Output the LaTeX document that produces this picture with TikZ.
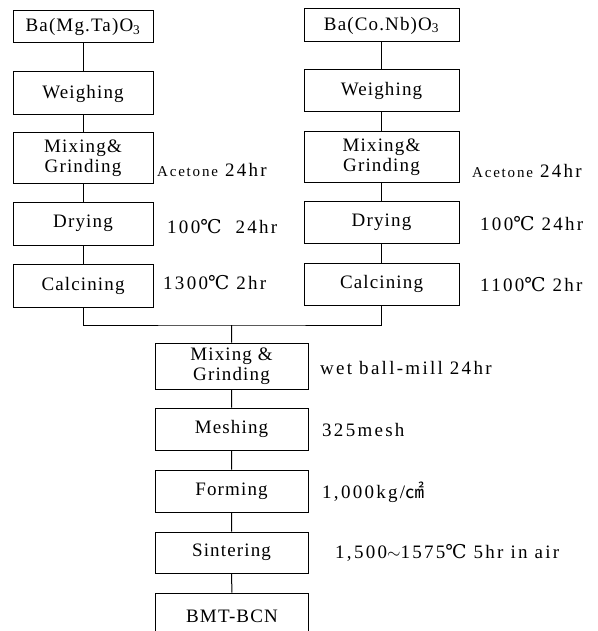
\documentclass[tikz,border=0pt]{standalone}
\usepackage{fontspec}
\setmainfont{Liberation Serif}[LetterSpace=6]
\newfontfamily\cjk{Noto Sans CJK KR}
\newfontfamily\symserif{DejaVu Serif}
\usetikzlibrary{positioning}
\newcommand{\degC}{{\symserif ℃}}
\newcommand{\sqcm}{{\cjk ㎠}}
\tikzset{
  pbox/.style={draw, line width=1pt, align=center, inner sep=2pt,
    font=\fontsize{19}{20}\selectfont},
  lbox/.style={pbox, minimum width=140pt},
  rbox/.style={pbox, minimum width=155pt},
  cbox/.style={pbox, minimum width=153pt},
  cond/.style={anchor=west, inner sep=0pt,
    font=\fontsize{19}{21}\selectfont\addfontfeatures{LetterSpace=12}},
  link/.style={line width=1pt}
}

\begin{document}
\begin{tikzpicture}[x=1pt,y=-1pt]
  \useasboundingbox (0,0) rectangle (597,631);
  \clip (0,0) rectangle (597,631);
  % left column: Ba(Mg,Ta)O3
  \node[lbox, minimum height=32pt] (lraw) at (83,27) {Ba(Mg.Ta)O\textsubscript{3}};
  \node[lbox, minimum height=43pt] (lweigh) at (83,93.5) {Weighing};
  \node[lbox, minimum height=50pt] (lmix) at (83,158) {Mixing\&\\Grinding};
  \node[lbox, minimum height=43pt] (ldry) at (83,223.5) {Drying};
  \node[lbox, minimum height=43pt] (lcal) at (83,285.5) {Calcining};
  % right column: Ba(Co,Nb)O3
  \node[rbox, minimum height=33pt] (rraw) at (381.5,25.5) {Ba(Co.Nb)O\textsubscript{3}};
  \node[rbox, minimum height=42pt] (rweigh) at (381.5,91) {Weighing};
  \node[rbox, minimum height=50pt] (rmix) at (381.5,157) {Mixing\&\\Grinding};
  \node[rbox, minimum height=42pt] (rdry) at (381.5,222) {Drying};
  \node[rbox, minimum height=42pt] (rcal) at (381.5,284) {Calcining};
  % common route
  \node[cbox, minimum height=46pt] (mix) at (231.5,366) {Mixing \&\\Grinding};
  \node[cbox, minimum height=42pt] (mesh) at (231.5,429) {Meshing};
  \node[cbox, minimum height=42pt] (form) at (231.5,491) {Forming};
  \node[cbox, minimum height=41pt] (sinter) at (231.5,552.5) {Sintering};
  \node[cbox, minimum height=46pt] (bmt) at (232,616) {BMT-BCN};
  \coordinate (join) at (231.5,325);

  \draw[link] (lraw) -- (lweigh) -- (lmix) -- (ldry) -- (lcal);
  \draw[link] (rraw) -- (rweigh) -- (rmix) -- (rdry) -- (rcal);
  \draw[link] (lcal.south) |- (join) -| (rcal.south);
  \draw[link] (join) -- (mix) -- (mesh) -- (form) -- (sinter) -- (bmt);

  % process conditions
  \node[cond] (lmixc) at (157,170) {{\fontsize{15}{18}\selectfont Acetone}\ 24hr};
  \node[cond] (ldryc) at (167,227) {100\degC\ \ 24hr};
  \node[cond] (lcalc) at (163,283) {1300\degC\ 2hr};
  \node[cond] (rmixc) at (472,171) {{\fontsize{15}{18}\selectfont Acetone}\ 24hr};
  \node[cond] (rdryc) at (480,224) {100\degC\ 24hr};
  \node[cond] (rcalc) at (480,285) {1100\degC\ 2hr};
  \node[cond] (mixc) at (320,368) {wet\ ball-mill\ 24hr};
  \node[cond] (meshc) at (322,430) {325mesh};
  \node[cond] (formc) at (322,492) {1,000kg/\sqcm};
  \node[cond] (sinterc) at (335,553) {1,500$\sim$1575\degC\ 5hr\ in\ air};
\end{tikzpicture}
\end{document}
